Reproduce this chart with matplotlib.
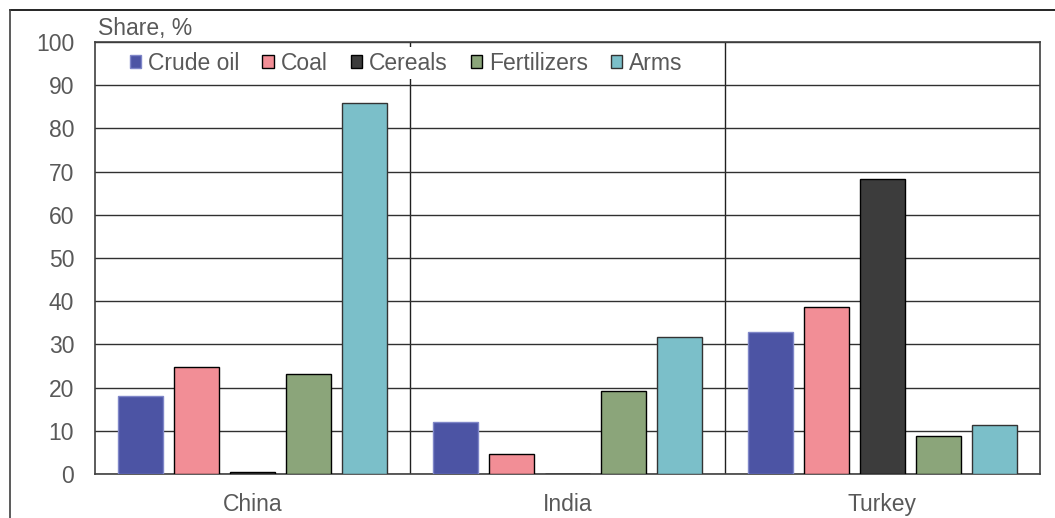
import matplotlib
matplotlib.use("Agg")
import matplotlib.pyplot as plt
from matplotlib.lines import Line2D
import numpy as np

plt.rcParams['font.family'] = ['Liberation Sans', 'DejaVu Sans']

countries = ["China", "India", "Turkey"]
series = ["Crude oil", "Coal", "Cereals", "Fertilizers", "Arms"]
crude_oil = [18.1, 12.0, 32.9]
coal = [24.8, 4.7, 38.7]
cereals = [0.5, 0.0, 68.3]
fertilizers = [23.2, 19.2, 8.7]
arms = [85.9, 31.6, 11.4]
values = [crude_oil, coal, cereals, fertilizers, arms]
colors = ["#4C54A4", "#F28E96", "#3C3C3C", "#8BA57A", "#7BBFC9"]
edges = ["#7F86C8", "black", "black", "black", "#333333"]

gray = "#595959"
fig = plt.figure(figsize=(10.55, 5.18), dpi=100)
ax = fig.add_axes([95/1055, 1-474/518, 945/1055, 432/518])

spacing = 56/315
width = 45/315
centers = np.arange(len(countries)) + 0.5
for i, (name, vals) in enumerate(zip(series, values)):
    off = (i - 2) * spacing
    ax.bar(centers + off, vals, width=width, color=colors[i], edgecolor=edges[i],
           linewidth=1.0, label=name, zorder=3)

ax.set_xlim(0, 3)
ax.set_ylim(0, 100)
ax.set_yticks(np.arange(0, 101, 10))
ax.yaxis.grid(True, color="#303030", linewidth=1.0, zorder=1)
for xv in [1, 2]:
    ax.axvline(xv, color="#202020", linewidth=1.0, zorder=1)
ax.set_xticks(centers)
ax.set_xticklabels(countries)
ax.tick_params(axis='y', length=0, pad=15, labelsize=16.5, labelcolor=gray)
ax.tick_params(axis='x', length=0, pad=14, labelsize=16.5, labelcolor=gray)
for s in ax.spines.values():
    s.set_color("#404040")
    s.set_linewidth(1.2)

fig.text(98/1055, 1-28/518, "Share, %", fontsize=16.5, color=gray, va='center', ha='left')

leg = ax.legend(loc='center left', bbox_to_anchor=(0.032, 0.951), ncol=5, frameon=True,
                fontsize=16.5, handlelength=0.5, handleheight=0.5, handletextpad=0.3,
                columnspacing=1.0, borderpad=0.2, borderaxespad=0)
leg.get_frame().set_facecolor('white')
leg.get_frame().set_edgecolor('none')
leg.get_frame().set_alpha(1)
for t in leg.get_texts():
    t.set_color(gray)

fig.add_artist(Line2D([10/1055, 1.0], [1-10/518, 1-10/518], color="black", linewidth=1.2, transform=fig.transFigure))
fig.add_artist(Line2D([10/1055, 10/1055], [0, 1-10/518], color="#404040", linewidth=1.2, transform=fig.transFigure))

fig.savefig("out.png", dpi=100)
